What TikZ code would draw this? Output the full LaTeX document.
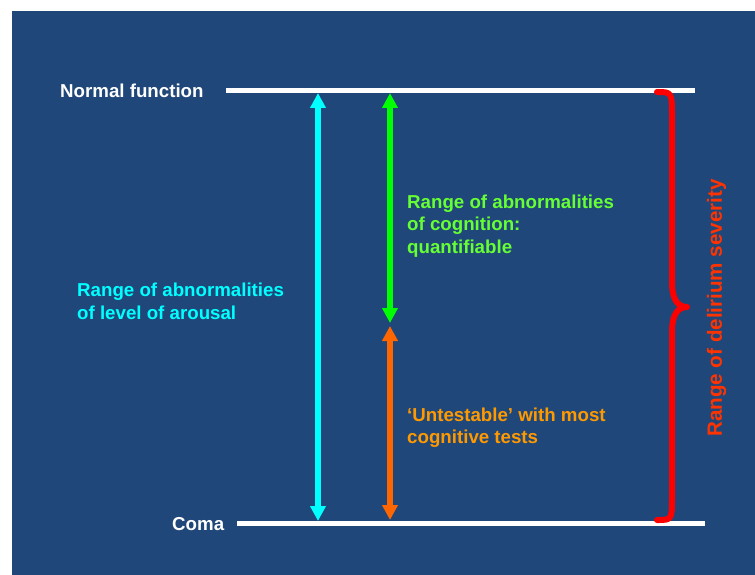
\documentclass[tikz,border=0pt]{standalone}
\usepackage{fontspec}
\setmainfont{Liberation Sans}
\usetikzlibrary{arrows.meta}
\definecolor{bgblue}{RGB}{31,71,122}
\definecolor{cyanc}{RGB}{0,255,255}
\definecolor{greenarrow}{RGB}{0,255,0}
\definecolor{greentext}{RGB}{102,255,51}
\definecolor{orangearrow}{RGB}{255,102,0}
\definecolor{orangetext}{RGB}{255,153,0}
\definecolor{redbrace}{RGB}{255,0,0}
\definecolor{redtext}{RGB}{255,51,0}
\begin{document}
\begin{tikzpicture}[x=1pt,y=-1pt,
  lbl/.style={inner sep=0pt,anchor=base west,font=\fontsize{18.7}{22.5}\selectfont\bfseries},
  levelline/.style={draw=white,line width=5pt},
  rangearrow/.style={line width=6pt,{Triangle[width=15pt,length=15pt]}-{Triangle[width=15pt,length=15pt]}},
  bracestyle/.style={draw=redbrace,line width=6pt,line cap=round,line join=round}]
\useasboundingbox (0,0) rectangle (755,575);
\fill[white] (0,0) rectangle (755,575);
\fill[bgblue] (12,11) rectangle (755,575);
% level lines
\coordinate (topL) at (226,91);
\coordinate (topR) at (695,91);
\coordinate (botL) at (237,523);
\coordinate (botR) at (705,523);
\draw[levelline] (topL) -- (topR);
\draw[levelline] (botL) -- (botR);
% labels of levels
\node[lbl,text=white] (normal) at (60,97.5) {Normal function};
\node[lbl,text=white] (coma) at (172,530) {Coma};
% arrows
\coordinate (cyanT) at (318,93);
\coordinate (cyanB) at (318,521);
\coordinate (greenT) at (390,93);
\coordinate (greenB) at (390,323);
\coordinate (orangeT) at (390,326);
\coordinate (orangeB) at (390,520);
\draw[rangearrow,draw=cyanc,fill=cyanc] (cyanT) -- (cyanB);
\draw[rangearrow,draw=greenarrow,fill=greenarrow] (greenT) -- (greenB);
\draw[rangearrow,draw=orangearrow,fill=orangearrow] (orangeT) -- (orangeB);
% texts
\node[lbl,text=cyanc] (ar1) at (77,296.7) {Range of abnormalities};
\node[lbl,text=cyanc] (ar2) at (77,319.2) {of level of arousal};
\node[lbl,text=greentext] (cg1) at (407,208) {Range of abnormalities};
\node[lbl,text=greentext] (cg2) at (407,230.5) {of cognition:};
\node[lbl,text=greentext] (cg3) at (407,253) {quantifiable};
\node[lbl,text=orangetext] (un1) at (407,421) {‘Untestable’ with most};
\node[lbl,text=orangetext] (un2) at (407,443.5) {cognitive tests};
% brace
\coordinate (brT) at (657,92);
\coordinate (brM) at (687,307);
\coordinate (brB) at (657,520);
\draw[bracestyle] (brT) .. controls (672,92) .. (672,118) -- (672,282)
  .. controls (672,300) and (678,307) .. (brM)
  .. controls (678,307) and (672,314) .. (672,332) -- (672,496)
  .. controls (672,520) .. (brB);
\node[inner sep=0pt,rotate=90,text=redtext,font=\fontsize{20.6}{24}\selectfont\bfseries] (sev) at (716.5,308) {Range of delirium severity};
\end{tikzpicture}
\end{document}
